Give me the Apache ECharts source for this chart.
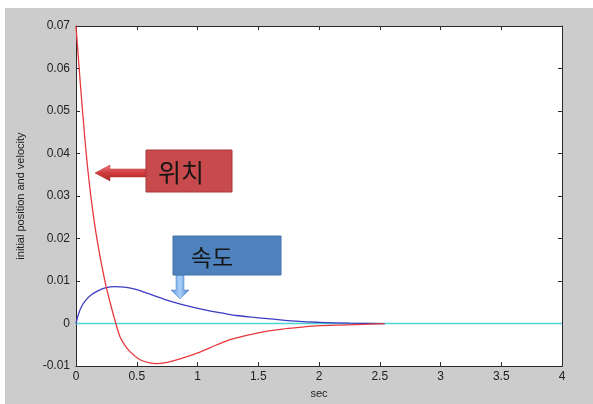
<!DOCTYPE html>
<html>
<head>
<meta charset="utf-8">
<script src="https://cdn.jsdelivr.net/npm/echarts@6/dist/echarts.min.js"></script>
<style>
html,body{margin:0;padding:0;background:#ffffff;}
#c{width:593px;height:404px;}
</style>
</head>
<body>
<div id="c"></div>
<script>
// Position (red) curve
var tPos = [0, 0.026, 0.054, 0.084, 0.122, 0.172, 0.238, 0.284, 0.324, 0.362, 0.4, 0.444, 0.527, 0.6, 0.664, 0.75, 0.856, 1.02, 1.15, 1.29, 1.51, 1.7, 1.84, 2.0, 2.23, 2.54];
var pos  = [0.07, 0.06, 0.05, 0.04, 0.03, 0.02, 0.01, 0.0046, 0.0004, -0.0031, -0.0050, -0.0066, -0.0085, -0.0092, -0.0094, -0.0091, -0.0083, -0.0067, -0.0051, -0.0036, -0.0021, -0.0013, -0.0009, -0.0005, -0.0003, 0];
// Velocity (blue) curve
var tVel = [0, 0.02, 0.049, 0.09, 0.132, 0.18, 0.241, 0.32, 0.4, 0.5, 0.62, 0.774, 0.9, 1.05, 1.2, 1.32, 1.45, 1.6, 1.84, 2.0, 2.25, 2.54];
var vel  = [0, 0.0022, 0.0042, 0.0058, 0.0069, 0.0077, 0.0084, 0.0087, 0.0086, 0.0080, 0.0068, 0.0053, 0.0043, 0.0033, 0.0025, 0.0019, 0.0015, 0.0011, 0.0005, 0.0003, 0.0001, 0];
// Zero reference line (cyan)
var tZero = [0, 4];
var zero  = [0, 0];
// Axis settings / labels
var xMin = 0, xMax = 4, xStep = 0.5;
var yMin = -0.01, yMax = 0.07, yStep = 0.01;
var xName = 'sec';
var yName = 'initial position and velocity';
var posLabel = '위치';
var velLabel = '속도';

function pairs(xs, ys){ return xs.map(function(x,i){ return [x, ys[i]]; }); }

var chart = echarts.init(document.getElementById('c'), null, {renderer:'canvas'});
var axisLine = {show:true, onZero:false, lineStyle:{color:'#2a2a2a', width:1}};
var tick = {show:true, inside:true, length:4, lineStyle:{color:'#2a2a2a'}};
var lblFont = {color:'#222', fontSize:12, fontFamily:'Liberation Sans, Arial, sans-serif'};

chart.setOption({
  animation:false,
  backgroundColor:'#ffffff',
  grid:{left:76, top:26, width:486, height:345, show:true, backgroundColor:'#ffffff', borderWidth:0, containLabel:false},
  xAxis:[{
    type:'value', min:xMin, max:xMax, interval:xStep, position:'bottom',
    axisLine:axisLine, axisTick:tick, splitLine:{show:false},
    axisLabel:Object.assign({margin:5}, lblFont),
    name:xName, nameLocation:'middle', nameGap:21,
    nameTextStyle:{color:'#222', fontSize:11, fontFamily:'Liberation Sans, Arial, sans-serif'}
  },{
    type:'value', min:xMin, max:xMax, interval:xStep, position:'top',
    axisLine:axisLine, axisTick:tick, splitLine:{show:false}, axisLabel:{show:false}
  }],
  yAxis:[{
    type:'value', min:yMin, max:yMax, interval:yStep, position:'left',
    axisLine:axisLine, axisTick:tick, splitLine:{show:false},
    axisLabel:Object.assign({margin:6, formatter:function(v){ return Math.abs(v)<1e-9 ? '0' : v.toFixed(2); }}, lblFont),
    name:yName, nameLocation:'middle', nameGap:50, nameRotate:90,
    nameTextStyle:{color:'#222', fontSize:11, fontFamily:'Liberation Sans, Arial, sans-serif'}
  },{
    type:'value', min:yMin, max:yMax, interval:yStep, position:'right',
    axisLine:axisLine, axisTick:tick, splitLine:{show:false}, axisLabel:{show:false}
  }],
  series:[
    {type:'line', data:pairs(tZero, zero), symbol:'none', lineStyle:{color:'#4fd4d4', width:1.5}, z:2},
    {type:'line', data:pairs(tVel, vel), symbol:'none', smooth:0.3, lineStyle:{color:'#3b3bc4', width:1.3}, z:3},
    {type:'line', data:pairs(tPos, pos), symbol:'none', smooth:0.3, lineStyle:{color:'#e8383e', width:1.3}, z:4}
  ],
  graphic:[
    {type:'rect', z:-100, silent:true, shape:{x:5, y:8, width:588, height:396}, style:{fill:'#cccccc'}},
    // red arrow pointing left
    {type:'polygon', z:100, shape:{points:[[146,169],[110,169],[110,165],[95,173],[110,181],[110,177],[146,177]]},
      style:{fill:new echarts.graphic.LinearGradient(0,0,0,1,[{offset:0,color:'#f08080'},{offset:0.5,color:'#d03a3a'},{offset:1,color:'#a82828'}]), stroke:'#b03030', lineWidth:0.5}},
    {type:'rect', z:100, shape:{x:146, y:150, width:86, height:42}, style:{fill:'#c84a4c', stroke:'#a83a3a', lineWidth:1}},
    {type:'text', z:101, style:{x:181, y:172, text:posLabel, fill:'#151515', font:'25px "Noto Sans CJK KR"', align:'center', verticalAlign:'middle'}},
    // blue arrow pointing down
    {type:'polygon', z:100, shape:{points:[[176,275],[176,290],[171,290],[180,299],[189,290],[184,290],[184,275]]},
      style:{fill:new echarts.graphic.LinearGradient(0,0,1,0,[{offset:0,color:'#5a90d8'},{offset:0.5,color:'#a8d0f8'},{offset:1,color:'#4a80c8'}]), stroke:'#4a7cc0', lineWidth:0.5}},
    {type:'rect', z:100, shape:{x:173, y:236, width:108, height:39}, style:{fill:'#4f81bd', stroke:'#4572a8', lineWidth:1}},
    {type:'text', z:101, style:{x:212, y:257, text:velLabel, fill:'#151515', font:'23px "Noto Sans CJK KR"', align:'center', verticalAlign:'middle'}}
  ]
});
</script>
</body>
</html>
